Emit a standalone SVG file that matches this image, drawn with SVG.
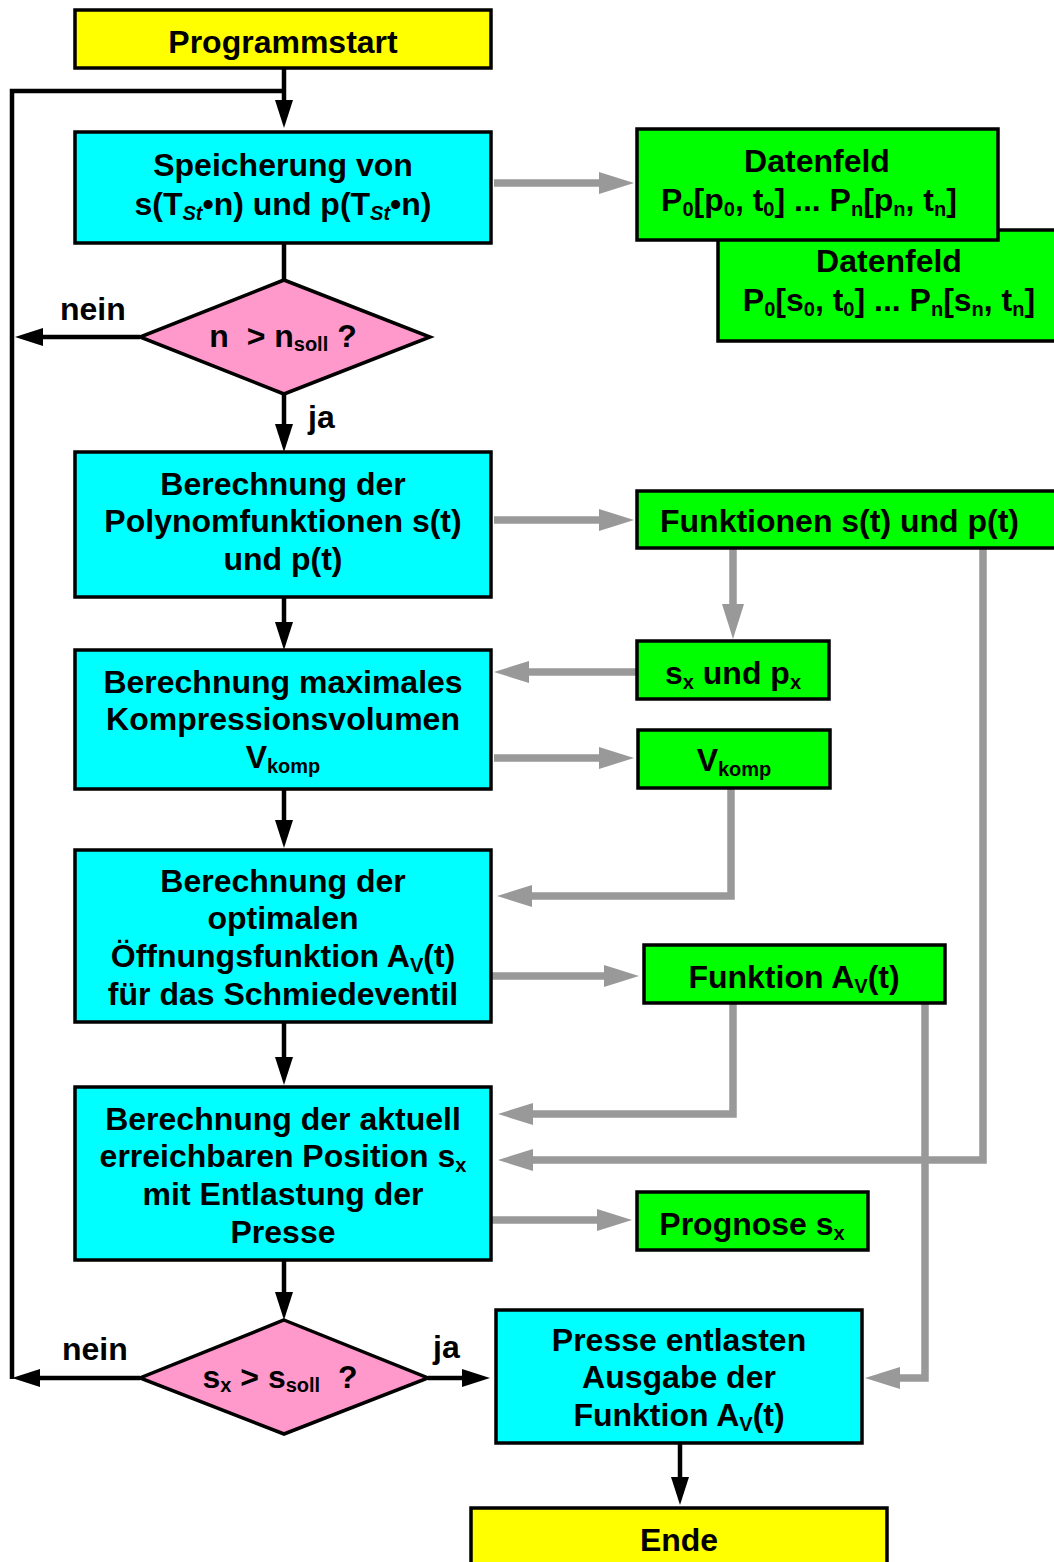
<svg xmlns="http://www.w3.org/2000/svg" width="1054" height="1562" viewBox="0 0 1054 1562">
  <defs>
    <style>
      .box { stroke: #000; stroke-width: 3.5; }
      .start { fill: #FFFF00; }
      .proc { fill: #00FFFF; }
      .data { fill: #00FF00; }
      .dec { fill: #FF99CC; }
      .t { font-family: "Liberation Sans", Arial, sans-serif; font-weight: bold; font-size: 32px; fill: #000; }
      .c { text-anchor: middle; }
      .sub { font-size: 20px; }
      .blk { fill: none; stroke: #000; stroke-width: 4.5; }
      .gry { fill: none; stroke: #999999; stroke-width: 7.5; }
    </style>
    <marker id="ahB" markerUnits="userSpaceOnUse" markerWidth="28" markerHeight="18" refX="0" refY="9" orient="auto" overflow="visible">
      <path d="M0,0 L28,9 L0,18 Z" fill="#000"/>
    </marker>
    <marker id="ahG" markerUnits="userSpaceOnUse" markerWidth="35" markerHeight="22" refX="0" refY="11" orient="auto" overflow="visible">
      <path d="M0,0 L35,11 L0,22 Z" fill="#999999"/>
    </marker>
  </defs>

  <!-- connectors -->
  <g id="connectors">
    <!-- main flow (black) -->
    <path class="blk" d="M284,68 V100" marker-end="url(#ahB)"/>
    <path class="blk" d="M12,1379 V91 H284"/>
    <path class="blk" d="M284,243 V280"/>
    <path class="blk" d="M140,337 H43" marker-end="url(#ahB)"/>
    <path class="blk" d="M284,394 V424" marker-end="url(#ahB)"/>
    <path class="blk" d="M284,597 V622" marker-end="url(#ahB)"/>
    <path class="blk" d="M284,789 V820" marker-end="url(#ahB)"/>
    <path class="blk" d="M284,1022 V1057" marker-end="url(#ahB)"/>
    <path class="blk" d="M284,1260 V1292" marker-end="url(#ahB)"/>
    <path class="blk" d="M140,1378 H40" marker-end="url(#ahB)"/>
    <path class="blk" d="M428,1378 H462" marker-end="url(#ahB)"/>
    <path class="blk" d="M680,1443 V1477" marker-end="url(#ahB)"/>
    <!-- data flow (gray) -->
    <path class="gry" d="M494,183 H599" marker-end="url(#ahG)"/>
    <path class="gry" d="M494,520 H599" marker-end="url(#ahG)"/>
    <path class="gry" d="M733,548 V604" marker-end="url(#ahG)"/>
    <path class="gry" d="M637,672 H529" marker-end="url(#ahG)"/>
    <path class="gry" d="M494,758 H599" marker-end="url(#ahG)"/>
    <path class="gry" d="M731,788 V896 H532" marker-end="url(#ahG)"/>
    <path class="gry" d="M492,976 H604" marker-end="url(#ahG)"/>
    <path class="gry" d="M733,1003 V1114 H533" marker-end="url(#ahG)"/>
    <path class="gry" d="M983,548 V1160 H533" marker-end="url(#ahG)"/>
    <path class="gry" d="M925,1003 V1378 H900" marker-end="url(#ahG)"/>
    <path class="gry" d="M492,1220 H597" marker-end="url(#ahG)"/>
  </g>

  <!-- branch labels -->
  <text class="t" x="60" y="320">nein</text>
  <text class="t" x="308" y="428">ja</text>
  <text class="t" x="62" y="1360">nein</text>
  <text class="t" x="433" y="1358">ja</text>

  <g id="programmstart">
    <rect class="box start" x="75" y="10" width="416" height="58"/>
    <text class="t c" x="283" y="53">Programmstart</text>
  </g>

  <g id="speicherung">
    <rect class="box proc" x="75" y="132" width="416" height="111"/>
    <text class="t c" x="283" y="176">Speicherung von</text>
    <text class="t c" x="283" y="215">s(T<tspan class="sub" font-style="italic" dy="5">St</tspan><tspan dy="-5">•n) und p(T</tspan><tspan class="sub" font-style="italic" dy="5">St</tspan><tspan dy="-5">•n)</tspan></text>
  </g>

  <g id="datenfeld-s">
    <rect class="box data" x="718" y="230" width="360" height="111"/>
    <text class="t c" x="889" y="272">Datenfeld</text>
    <text class="t c" x="889" y="311">P<tspan class="sub" dy="5">0</tspan><tspan dy="-5">[s</tspan><tspan class="sub" dy="5">0</tspan><tspan dy="-5">, t</tspan><tspan class="sub" dy="5">0</tspan><tspan dy="-5">] ... P</tspan><tspan class="sub" dy="5">n</tspan><tspan dy="-5">[s</tspan><tspan class="sub" dy="5">n</tspan><tspan dy="-5">, t</tspan><tspan class="sub" dy="5">n</tspan><tspan dy="-5">]</tspan></text>
  </g>

  <g id="datenfeld-p">
    <rect class="box data" x="637" y="129" width="361" height="111"/>
    <text class="t c" x="817" y="172">Datenfeld</text>
    <text class="t c" x="809" y="211">P<tspan class="sub" dy="5">0</tspan><tspan dy="-5">[p</tspan><tspan class="sub" dy="5">0</tspan><tspan dy="-5">, t</tspan><tspan class="sub" dy="5">0</tspan><tspan dy="-5">] ... P</tspan><tspan class="sub" dy="5">n</tspan><tspan dy="-5">[p</tspan><tspan class="sub" dy="5">n</tspan><tspan dy="-5">, t</tspan><tspan class="sub" dy="5">n</tspan><tspan dy="-5">]</tspan></text>
  </g>

  <g id="entscheidung-n">
    <polygon class="box dec" points="284,280 430,337 284,394 140,337"/>
    <text class="t c" x="283" y="347" xml:space="preserve">n  &gt; n<tspan class="sub" dy="4">soll</tspan><tspan dy="-4"> ?</tspan></text>
  </g>

  <g id="polynomfunktionen">
    <rect class="box proc" x="75" y="452" width="416" height="145"/>
    <text class="t c" x="283" y="495">Berechnung der</text>
    <text class="t c" x="283" y="532">Polynomfunktionen s(t)</text>
    <text class="t c" x="283" y="570">und p(t)</text>
  </g>

  <g id="funktionen">
    <rect class="box data" x="637" y="491" width="430" height="57"/>
    <text class="t" x="660" y="532">Funktionen s(t) und p(t)</text>
  </g>

  <g id="sx-px">
    <rect class="box data" x="637" y="641" width="192" height="58"/>
    <text class="t c" x="733" y="684">s<tspan class="sub" dy="5">x</tspan><tspan dy="-5"> und p</tspan><tspan class="sub" dy="5">x</tspan></text>
  </g>

  <g id="kompressionsvolumen">
    <rect class="box proc" x="75" y="650" width="416" height="139"/>
    <text class="t c" x="283" y="693">Berechnung maximales</text>
    <text class="t c" x="283" y="730">Kompressionsvolumen</text>
    <text class="t c" x="283" y="768">V<tspan class="sub" dy="5">komp</tspan></text>
  </g>

  <g id="vkomp">
    <rect class="box data" x="638" y="730" width="192" height="58"/>
    <text class="t c" x="734" y="771">V<tspan class="sub" dy="5">komp</tspan></text>
  </g>

  <g id="oeffnungsfunktion">
    <rect class="box proc" x="75" y="850" width="416" height="172"/>
    <text class="t c" x="283" y="892">Berechnung der</text>
    <text class="t c" x="283" y="929">optimalen</text>
    <text class="t c" x="283" y="967">Öffnungsfunktion A<tspan class="sub" dy="5">V</tspan><tspan dy="-5">(t)</tspan></text>
    <text class="t c" x="283" y="1005">für das Schmiedeventil</text>
  </g>

  <g id="funktion-av">
    <rect class="box data" x="644" y="945" width="301" height="58"/>
    <text class="t c" x="794" y="988">Funktion A<tspan class="sub" dy="5">V</tspan><tspan dy="-5">(t)</tspan></text>
  </g>

  <g id="position">
    <rect class="box proc" x="75" y="1087" width="416" height="173"/>
    <text class="t c" x="283" y="1130">Berechnung der aktuell</text>
    <text class="t c" x="283" y="1167">erreichbaren Position s<tspan class="sub" dy="5">x</tspan></text>
    <text class="t c" x="283" y="1205">mit Entlastung der</text>
    <text class="t c" x="283" y="1243">Presse</text>
  </g>

  <g id="prognose">
    <rect class="box data" x="637" y="1192" width="231" height="58"/>
    <text class="t c" x="752" y="1235">Prognose s<tspan class="sub" dy="5">x</tspan></text>
  </g>

  <g id="entscheidung-s">
    <polygon class="box dec" points="284,1320 428,1378 284,1434 140,1378"/>
    <text class="t c" x="280" y="1388" xml:space="preserve">s<tspan class="sub" dy="4">x</tspan><tspan dy="-4"> &gt; s</tspan><tspan class="sub" dy="4">soll</tspan><tspan dy="-4">  ?</tspan></text>
  </g>

  <g id="presse-entlasten">
    <rect class="box proc" x="496" y="1310" width="366" height="133"/>
    <text class="t c" x="679" y="1351">Presse entlasten</text>
    <text class="t c" x="679" y="1388">Ausgabe der</text>
    <text class="t c" x="679" y="1426">Funktion A<tspan class="sub" dy="5">V</tspan><tspan dy="-5">(t)</tspan></text>
  </g>

  <g id="ende">
    <rect class="box start" x="471" y="1508" width="416" height="70"/>
    <text class="t c" x="679" y="1551">Ende</text>
  </g>
</svg>
